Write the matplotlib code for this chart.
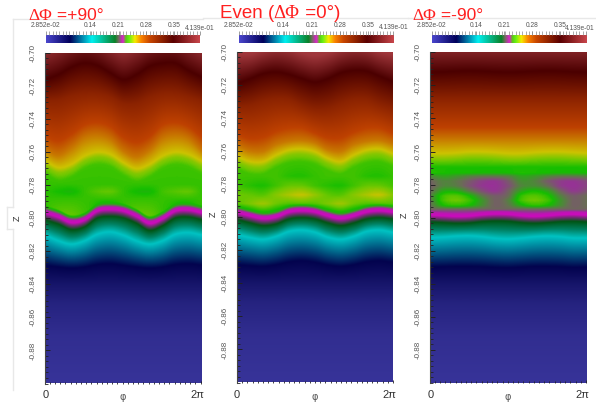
import numpy as np
import matplotlib
matplotlib.use("Agg")
import matplotlib.pyplot as plt
from matplotlib.colors import LinearSegmentedColormap
from matplotlib.lines import Line2D

plt.rcParams['font.family'] = ['Liberation Sans', 'DejaVu Sans']

W, H = 596, 404
VMIN, VMAX = 0.02852, 0.4139
bar_ticks = [0.14, 0.21, 0.28, 0.35]
z_ticks = [-0.70, -0.72, -0.74, -0.76, -0.78, -0.80, -0.82, -0.84, -0.86, -0.88]

# colour bar as printed
bar_stops = [(0, (75,70,205)), (.156, (0,0,90)), (.297, (0,240,240)), (.448, (10,130,40)),
             (.47, (110,110,90)), (.50, (225,30,210)), (.52, (90,200,20)), (.54, (100,240,20)),
             (.578, (245,235,0)), (.62, (250,130,0)), (.675, (200,70,0)), (.827, (90,0,0)), (1, (200,70,75))]
# shaded colours seen in the field, in colour-bar fraction
field_stops = [(0, (56,52,154)), (.156, (3,3,78)), (.297, (0,195,195)), (.38, (0,130,100)), (.44, (0,85,20)),
               (.50, (205,10,190)), (.51, (150,50,150)), (.525, (105,110,85)), (.545, (20,190,0)),
               (.56, (110,200,0)), (.58, (205,195,0)), (.62, (200,120,0)), (.66, (190,65,0)),
               (.75, (140,35,0)), (.83, (75,0,0)), (1, (160,55,60))]

# ---- panel 1: z of contours at 13 stations in phi
p1_band = [-.7970,-.7995,-.8028,-.8012,-.7958,-.7948,-.7958,-.7990,-.8033,-.8005,-.7958,-.7952,-.7968]
p1_cyan = [-.8107,-.8141,-.8161,-.8141,-.8101,-.8087,-.8107,-.8141,-.8161,-.8141,-.8101,-.8091,-.8105]
p1_navy = [-.8290,-.8300,-.8306,-.8300,-.8285,-.8280,-.8290,-.8300,-.8306,-.8300,-.8285,-.8280,-.8288]
p1_yell = [-.7658,-.7698,-.7678,-.7628,-.7604,-.7618,-.7668,-.7704,-.7678,-.7628,-.7604,-.7618,-.7658]
p1_or62 = [-.7595,-.7625,-.7580,-.7520,-.7505,-.7530,-.7600,-.7635,-.7595,-.7525,-.7505,-.7525,-.7595]
p1_or66 = [-.7510,-.7535,-.7495,-.7440,-.7425,-.7450,-.7515,-.7545,-.7510,-.7440,-.7425,-.7450,-.7510]
p1_br75 = [-.7295,-.7290,-.7265,-.7250,-.7250,-.7270,-.7310,-.7310,-.7275,-.7250,-.7250,-.7270,-.7295]
p1_dark = [-.7166,-.7135,-.7090,-.7065,-.7080,-.7125,-.7165,-.7135,-.7085,-.7065,-.7065,-.7110,-.7150]
p1_top = [-.6960,-.6920,-.6880,-.6850,-.6880,-.6930,-.6965,-.6930,-.6880,-.6850,-.6860,-.6900,-.6950]
p1_s_low = [.550,.555,.558,.552,.546,.546,.550,.555,.558,.550,.546,.546,.550]
p1_s_mid = [.549,.545,.543,.550,.556,.558,.550,.544,.543,.552,.556,.558,.550]

# ---- panel 2
p2_band = [-.7974,-.7994,-.8010,-.8000,-.7970,-.7962,-.7970,-.7994,-.8010,-.7994,-.7970,-.7962,-.7970]
p2_cyan = [-.8110,-.8128,-.8138,-.8120,-.8090,-.8082,-.8095,-.8125,-.8138,-.8120,-.8090,-.8082,-.8095]
p2_navy = [-.8292,-.8298,-.8302,-.8292,-.8275,-.8268,-.8277,-.8294,-.8302,-.8292,-.8275,-.8268,-.8277]
p2_yell = [-.7638,-.7668,-.7668,-.7628,-.7598,-.7592,-.7608,-.7648,-.7668,-.7628,-.7598,-.7592,-.7618]
p2_or62 = [-.7575,-.7605,-.7605,-.7565,-.7545,-.7540,-.7555,-.7595,-.7605,-.7565,-.7545,-.7540,-.7560]
p2_or66 = [-.7505,-.7530,-.7520,-.7485,-.7465,-.7465,-.7495,-.7525,-.7525,-.7490,-.7465,-.7465,-.7495]
p2_br75 = [-.7335,-.7325,-.7300,-.7285,-.7290,-.7325,-.7350,-.7345,-.7315,-.7290,-.7290,-.7320,-.7345]
p2_dark = [-.7196,-.7165,-.7135,-.7125,-.7140,-.7165,-.7186,-.7165,-.7130,-.7116,-.7120,-.7150,-.7182]
p2_top = [-.7015,-.7015,-.6990,-.6970,-.6980,-.7010,-.7025,-.7010,-.6980,-.6960,-.6970,-.7000,-.7015]
p2_s_a = [.552,.552,.552,.552,.548,.547,.550,.552,.552,.552,.548,.547,.550]
p2_s_b = [.552,.548,.546,.552,.558,.558,.552,.548,.546,.552,.558,.558,.553]
p2_s_c = [.560,.558,.556,.565,.573,.578,.568,.558,.556,.565,.573,.578,.565]
p2_s_d = [.556,.563,.570,.560,.555,.555,.556,.563,.570,.560,.555,.555,.556]

# ---- panel 3
p3_band = [-.7982,-.7986,-.7990,-.7988,-.7980,-.7976,-.7978,-.7986,-.7990,-.7986,-.7980,-.7978,-.7982]
p3_cyan = [-.8122,-.8118,-.8112,-.8110,-.8116,-.8126,-.8130,-.8124,-.8116,-.8112,-.8116,-.8124,-.8124]
p3_navy = [-.8300,-.8298,-.8296,-.8296,-.8298,-.8302,-.8304,-.8300,-.8296,-.8296,-.8298,-.8302,-.8300]
p3_yell = [-.7610,-.7612,-.7608,-.7602,-.7602,-.7606,-.7612,-.7612,-.7606,-.7602,-.7602,-.7606,-.7610]
p3_dark = [-.7120,-.7118,-.7114,-.7112,-.7114,-.7118,-.7120,-.7118,-.7114,-.7112,-.7114,-.7118,-.7120]
p3_s_070 = [.548,.546,.545,.545,.544,.544,.545,.547,.546,.545,.544,.544,.545]
p3_s_080 = [.532,.538,.535,.530,.528,.528,.530,.538,.536,.531,.528,.528,.530]
p3_s_095 = [.522,.530,.527,.520,.513,.511,.520,.533,.530,.520,.513,.511,.516]
p3_s_110 = [.520,.530,.528,.518,.511,.510,.517,.530,.532,.525,.513,.510,.514]
p3_s_125 = [.523,.540,.540,.528,.517,.511,.522,.538,.545,.538,.522,.512,.518]
p3_s_140 = [.530,.552,.556,.545,.528,.521,.525,.550,.556,.548,.530,.521,.525]
p3_s_153 = [.527,.553,.560,.552,.535,.522,.530,.553,.560,.553,.535,.522,.525]
p3_s_168 = [.525,.545,.550,.545,.533,.522,.527,.542,.550,.545,.533,.522,.525]


def A(v):
    return np.broadcast_to(np.asarray(v, float), (13,))


def lower_part(band, cyan, navy):
    band, cyan, navy = A(band), A(cyan), A(navy)
    dk = band - .0045
    return [(A(-.905), 0), (A(-.872), .02), (A(-.852), .055), (A(-.840), .10), (navy, .156),
            (cyan, .297), ((cyan + dk) / 2, .38), (dk, .44), (band - .0024, .47), (band - .0004, .50),
            (band + .0012, .503)]


y1 = A(p1_yell)
rows1 = lower_part(p1_band, p1_cyan, p1_navy) + [
    (A(p1_band) + .003, .54), (A(p1_band) + .0045, p1_s_low), (A(-.7885), .55), (A(-.7843), p1_s_mid),
    (A(-.7798), .55), (y1 - .0075, .552), (y1 - .003, .565), (y1, .58), (A(p1_or62), .62), (A(p1_or66), .66),
    (A(p1_br75), .75), (A(p1_dark), .83), (A(p1_top), 1)]

y2 = A(p2_yell)
rows2 = lower_part(p2_band, p2_cyan, p2_navy) + [
    (A(p2_band) + .0028, .54), (A(-.7922), p2_s_d), (A(-.7869), p2_s_c), (A(-.7813), p2_s_b), (A(-.7755), p2_s_a),
    (y2 - .0075, .552), (y2 - .003, .565), (y2, .58), (A(p2_or62), .62), (A(p2_or66), .66),
    (A(p2_br75), .75), (A(p2_dark), .83), (A(p2_top), 1)]

y3 = A(p3_yell)
rows3 = lower_part(p3_band, p3_cyan, p3_navy) + [
    (A(-.7950), .523), (A(-.7926), p3_s_168), (A(-.7896), p3_s_153), (A(-.7869), p3_s_140), (A(-.7839), p3_s_125),
    (A(-.7809), p3_s_110), (A(-.7779), p3_s_095), (A(-.7749), p3_s_080), (A(-.7729), p3_s_070),
    (A(-.7695), .546), (y3 - .0045, .56), (y3, .58), (A(-.7525), .62), (A(-.7455), .66),
    (A(-.7280), .75), (A(p3_dark), .83), (A(-.7005), .93), (A(-.685), 1)]


def spline(y, n=157):
    t = np.linspace(0, 12, n)
    i = np.clip(t.astype(int), 0, 11)
    u = t - i
    p = np.r_[2 * y[0] - y[1], y, 2 * y[-1] - y[-2]]
    a, b, c, d = p[i], p[i + 1], p[i + 2], p[i + 3]
    return .5 * (2 * b + (c - a) * u + (2 * a - 5 * b + 4 * c - d) * u ** 2 + (3 * b - a - 3 * c + d) * u ** 3)


def field(rows, zgrid):
    Z = np.array([spline(A(z)) for z, s in rows])
    S = np.array([spline(A(s)) for z, s in rows])
    Z = np.maximum.accumulate(Z, axis=0)
    return np.array([np.interp(zgrid, Z[:, c], S[:, c]) for c in range(Z.shape[1])]).T


def cm(stops, name):
    return LinearSegmentedColormap.from_list(name, [(p, tuple(v / 255 for v in c)) for p, c in stops], N=1024)


bar_cmap, field_cmap = cm(bar_stops, 'bar'), cm(field_stops, 'field')
fig = plt.figure(figsize=(W / 100, H / 100), dpi=100)


def axpx(x0, y0, x1, y1):
    return fig.add_axes([x0 / W, 1 - y1 / H, (x1 - x0) / W, (y1 - y0) / H])


def title(x, y, parts, fs):
    """Title pieces: the Greek pair is set in a serif face, the rest in sans."""
    r = fig.canvas.get_renderer()
    for txt, fam in parts:
        t = fig.text(x / W, 1 - y / H, txt, color='#ff2020', fontsize=fs, ha='left', va='baseline', family=fam)
        probe = fig.text(0, 0, txt.replace(' ', '|') + '|', fontsize=fs, family=fam)
        bar = fig.text(0, 0, '|', fontsize=fs, family=fam)
        x += probe.get_window_extent(r).width - bar.get_window_extent(r).width
        probe.remove()
        bar.remove()


# faint window frame
frame = (232 / 255,) * 3
for xs, ys in [((12.7, 12.7), (18.5, 207)), ((12.7, 12.7), (229, 390)), ((7, 12.7), (207, 207)), ((7, 12.7), (229, 229)),
               ((7, 7), (207, 229)), ((12.7, 203), (18.5, 18.5)), ((203, 408), (17.5, 17.5)), ((408, 596), (18, 18))]:
    fig.add_artist(Line2D(np.array(xs) / W, 1 - np.array(ys) / H, color=frame, lw=1))

SANS, SERIF = 'Liberation Sans', 'Liberation Serif'
zgrid = np.linspace(-.90, -.70, 661)
panels = [
    dict(rows=rows1, im=(44.5, 52.5, 200.5, 383.5), bar=(46, 35, 200, 43.3), zx=17, zy=218, tx=28, ty=19.5, fs=12.5,
         zero=46, two=197, maxx=200, title=[('ΔΦ', SERIF), (' =+90°', SANS)]),
    dict(rows=rows2, im=(237, 51.7, 393, 382.5), bar=(239, 34.5, 393.3, 42.8), zx=213, zy=214, tx=220, ty=18.5, fs=13.5,
         zero=237, two=389, maxx=393.3, title=[('Even (', SANS), ('ΔΦ', SERIF), (' =0°)', SANS)]),
    dict(rows=rows3, im=(429.5, 52.3, 586, 383), bar=(431.7, 35, 586, 42.8), zx=404, zy=215, tx=412, ty=19.5, fs=12.5,
         zero=431, two=582, maxx=580, title=[('ΔΦ', SERIF), (' =-90°', SANS)]),
]
GR = '#555555'
for P in panels:
    ax = axpx(*P['im'])
    ax.imshow(field(P['rows'], zgrid), origin='lower', aspect='auto', extent=(0, 2 * np.pi, -.90, -.70),
              cmap=field_cmap, vmin=0, vmax=1, interpolation='bilinear')
    ax.set_xlim(0, 2 * np.pi)
    ax.set_ylim(-.90, -.70)
    for s in ax.spines.values():
        s.set_visible(False)
    ax.spines['left'].set_visible(True)
    ax.spines['left'].set_color('#444444')
    ax.spines['left'].set_linewidth(.8)
    ax.set_yticks(z_ticks)
    ax.set_yticklabels([f'{v:.2f}' for v in z_ticks], rotation=90, va='center', fontsize=5.8, color=GR)
    ax.set_yticks(np.arange(-.90, -.699, .02 / 6), minor=True)
    ax.set_xticks([0, 2 * np.pi])
    ax.set_xticklabels(['', ''])
    ax.set_xticks(np.linspace(0, 2 * np.pi, 31), minor=True)
    ax.tick_params(axis='y', which='major', direction='in', length=3.5, width=.7, color='#222222', pad=6)
    ax.tick_params(axis='y', which='minor', direction='in', length=2, width=.6, color='#222222')
    ax.tick_params(axis='x', which='major', direction='in', length=2, width=.6, color='#222222', pad=3)
    ax.tick_params(axis='x', which='minor', direction='in', length=1.5, width=.6, color='#222222')
    x0, y0, x1, y1 = P['im']
    fig.text(P['zero'] / W, 1 - 394.5 / H, '0', ha='center', va='center', fontsize=8, color='#333333')
    fig.text(P['two'] / W, 1 - 394.5 / H, '2π', ha='center', va='center', fontsize=8, color='#333333')
    fig.text((x0 + x1) / 2 / W, 1 - 396.5 / H, 'φ', ha='center', va='center', fontsize=7, color=GR,
             family=['DejaVu Sans'])
    fig.text(P['zx'] / W, 1 - P['zy'] / H, 'Z', rotation=90, ha='center', va='center', fontsize=6.5, color='#333333')
    title(P['tx'], P['ty'], P['title'], P['fs'])

    cb = axpx(*P['bar'])
    cb.imshow(np.linspace(0, 1, 512)[None, :], aspect='auto', extent=(VMIN, VMAX, 0, 1), cmap=bar_cmap,
              vmin=0, vmax=1, interpolation='bilinear')
    for s in cb.spines.values():
        s.set_visible(False)
    cb.set_yticks([])
    cb.xaxis.tick_top()
    cb.set_xlim(VMIN, VMAX)
    cb.set_xticks([VMIN] + bar_ticks + [VMAX])
    cb.set_xticklabels(['2.852e-02'] + [f'{v:.2f}' for v in bar_ticks] + [''], fontsize=4.8, color=GR)
    cb.set_xticks(np.linspace(VMIN, VMAX, 47), minor=True)
    cb.tick_params(axis='x', which='major', direction='out', length=3.2, width=.5, color='#777777', pad=0.8)
    cb.tick_params(axis='x', which='minor', direction='out', length=2.6, width=.5, color='#888888')
    fig.text(P['maxx'] / W, 1 - (P['bar'][1] - 5.2) / H, '4.139e-01', ha='center', va='baseline', fontsize=4.8, color=GR)

fig.savefig('out.png', dpi=100)
